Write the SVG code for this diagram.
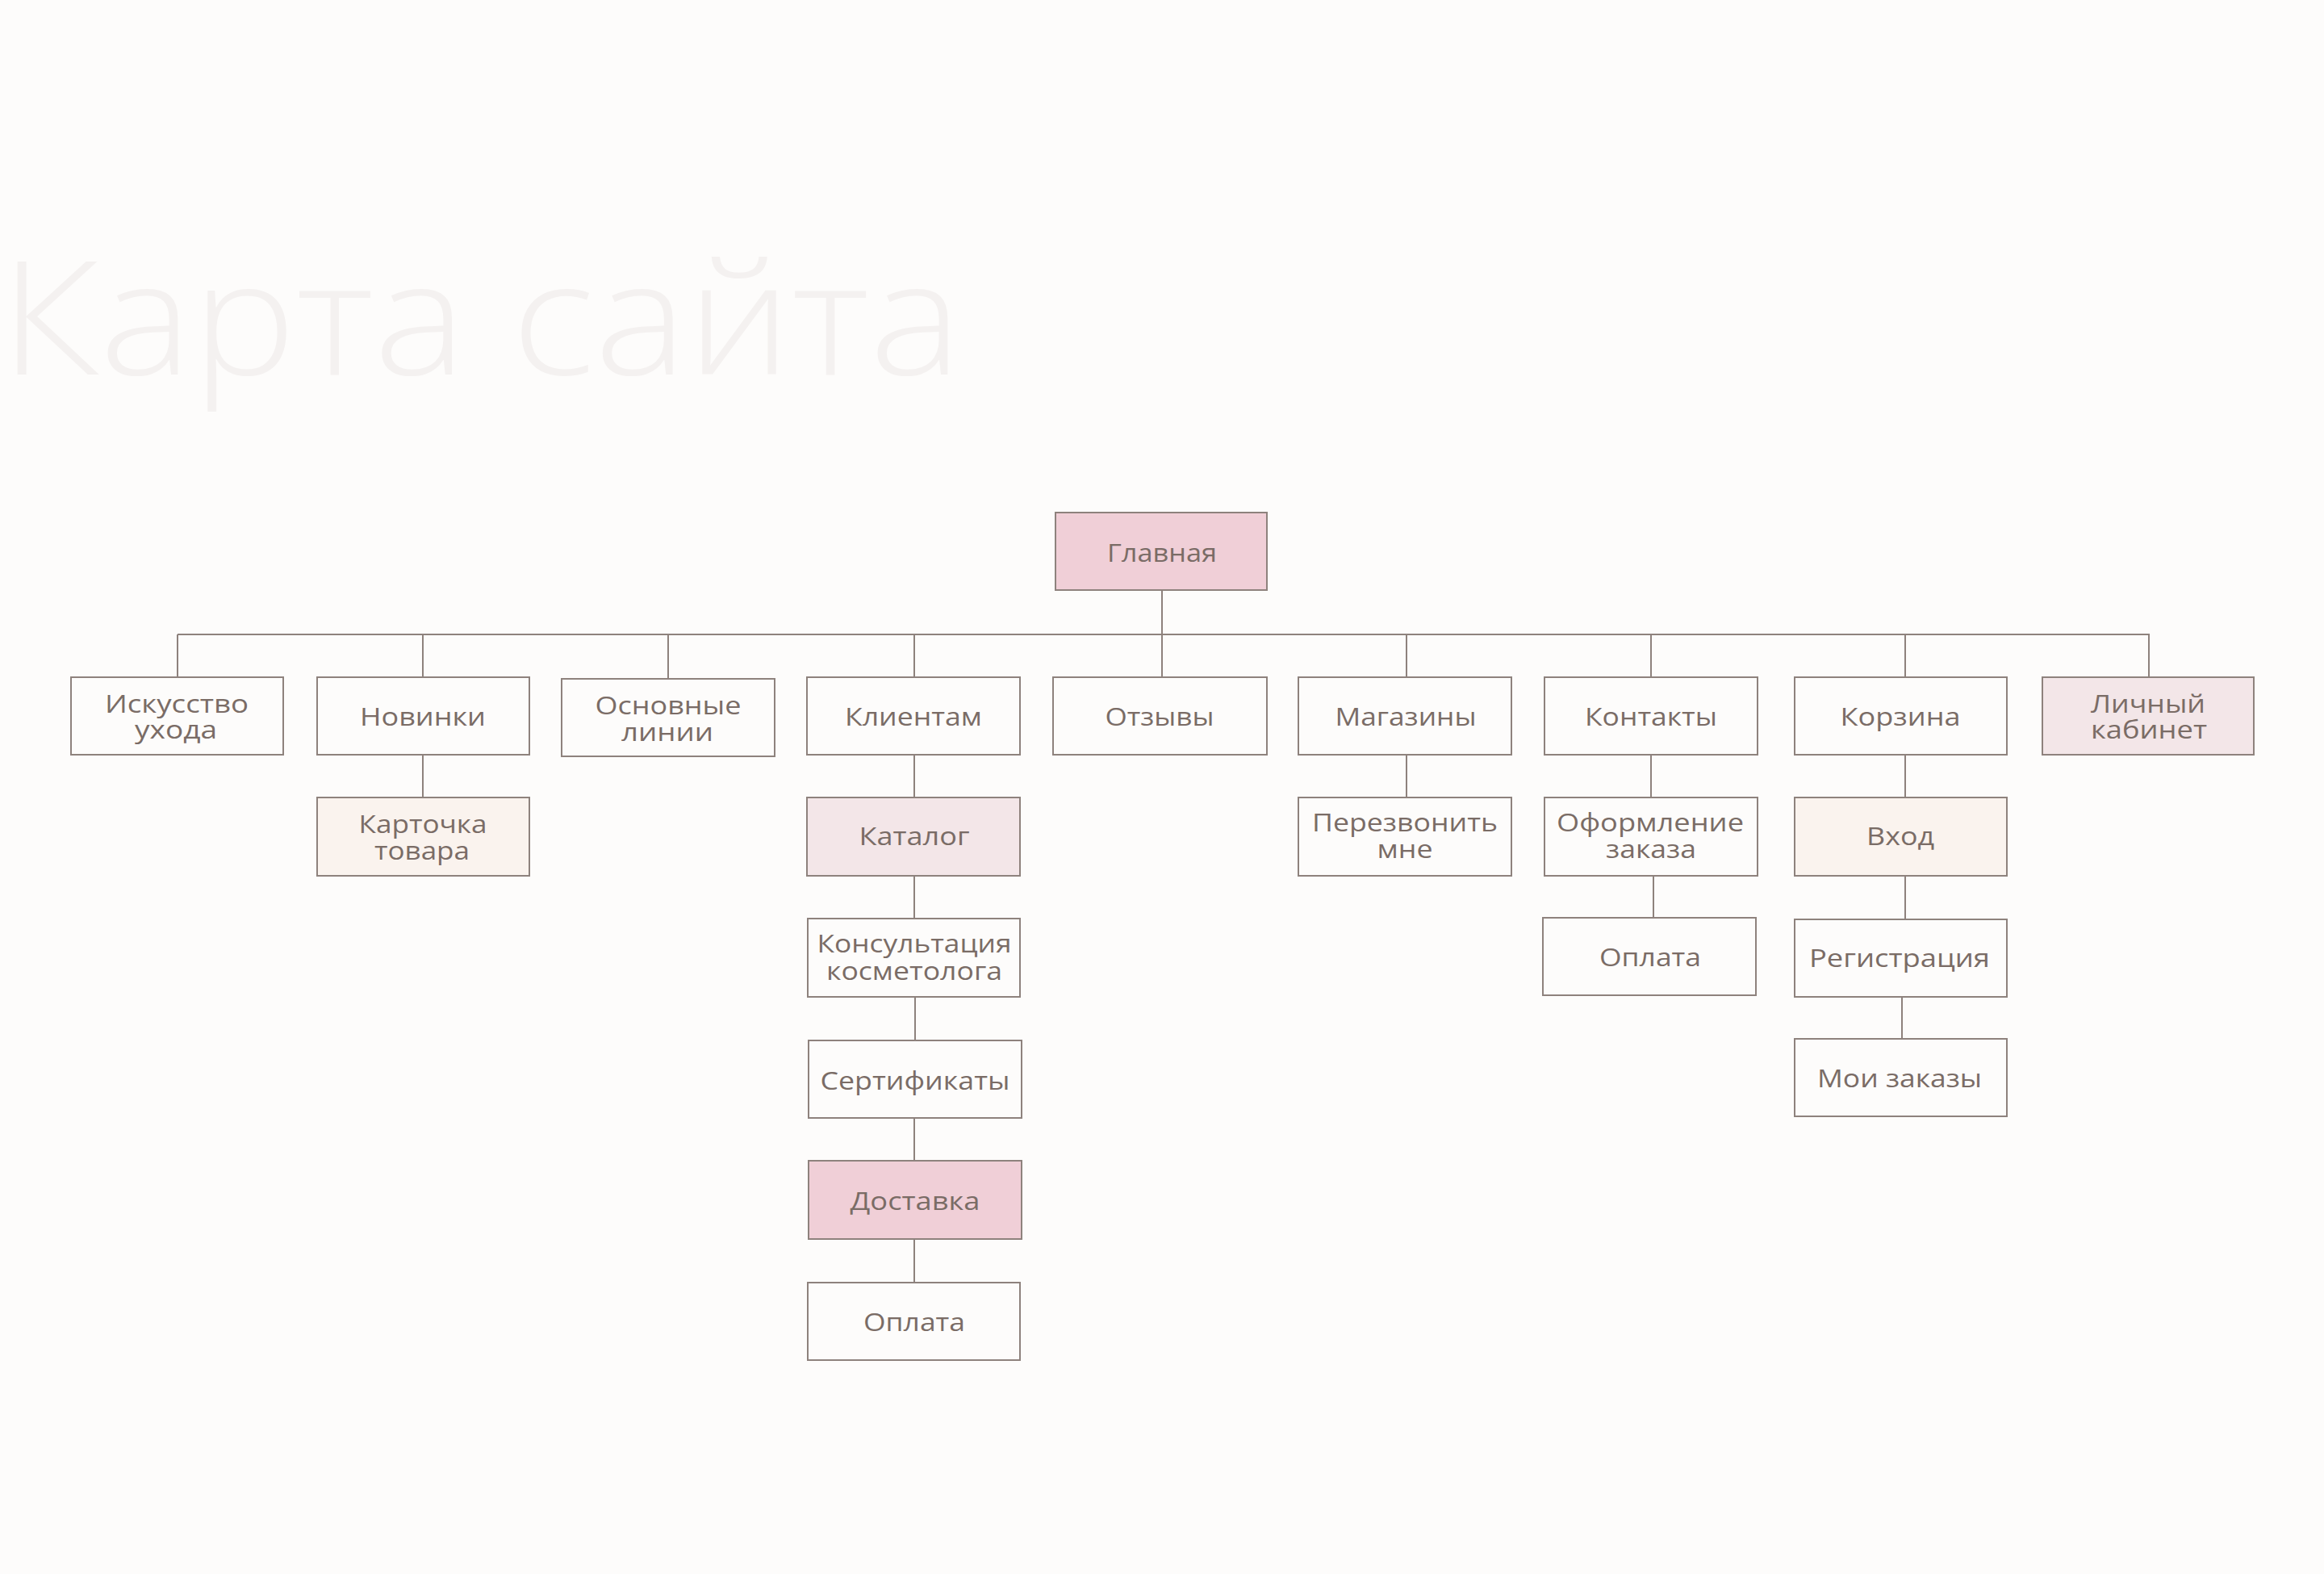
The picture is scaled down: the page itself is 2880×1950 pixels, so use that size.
<svg xmlns="http://www.w3.org/2000/svg" width="2880" height="1950" viewBox="0 0 2880 1950">
<style>
.bg{fill:#fdfcfb}
.title{font-family:"Open Sans","Noto Sans","Liberation Sans",sans-serif;font-weight:300;font-size:196px;fill:#f4f1f0}
.box{stroke:#8e827d;stroke-width:2;fill:#fdfcfb}
.pink{fill:#f0cfd7}
.lpink{fill:#f3e6e8}
.cream{fill:#faf3ee}
.lbl{font-family:"Open Sans","Noto Sans","Liberation Sans",sans-serif;font-size:31px;fill:#7a6c66;text-anchor:middle}
.con{stroke:#8e827d;stroke-width:2;fill:none}
</style>
<rect class="bg" x="0" y="0" width="2880" height="1950"/>
<text class="title" x="0" y="464" textLength="1192" lengthAdjust="spacingAndGlyphs">Карта сайта</text>

<g id="connectors">
<path class="con" d="M220,786 H2664"/>
<path class="con" d="M1440,731 V839"/>
<path class="con" d="M220,786 V839 M524,786 V839 M828,786 V841 M1133,786 V839 M1743,786 V839 M2046,786 V839 M2361,786 V839 M2663,786 V839"/>
<path class="con" d="M524,935 V988 M1133,935 V988 M1743,935 V988 M2046,935 V988 M2361,935 V988"/>
<path class="con" d="M1133,1085 V1138 M2049,1085 V1137 M2361,1085 V1139"/>
<path class="con" d="M1134,1235 V1289 M2357,1235 V1287"/>
<path class="con" d="M1133,1385 V1438"/>
<path class="con" d="M1133,1535 V1589"/>
</g>

<g id="n-glavnaya"><rect class="box pink" x="1308" y="635" width="262" height="96"/><text class="lbl" x="1440" y="696" textLength="136" lengthAdjust="spacingAndGlyphs">Главная</text></g>

<g id="n-iskusstvo"><rect class="box" x="88" y="839" width="263" height="96"/><text class="lbl"><tspan x="219" y="883" textLength="178" lengthAdjust="spacingAndGlyphs">Искусство</tspan><tspan x="218" y="915" textLength="102" lengthAdjust="spacingAndGlyphs">ухода</tspan></text></g>
<g id="n-novinki"><rect class="box" x="393" y="839" width="263" height="96"/><text class="lbl" x="524" y="899" textLength="156" lengthAdjust="spacingAndGlyphs">Новинки</text></g>
<g id="n-osnovnye"><rect class="box" x="696" y="841" width="264" height="96"/><text class="lbl"><tspan x="828" y="885" textLength="181" lengthAdjust="spacingAndGlyphs">Основные</tspan><tspan x="827" y="918" textLength="114" lengthAdjust="spacingAndGlyphs">линии</tspan></text></g>
<g id="n-klientam"><rect class="box" x="1000" y="839" width="264" height="96"/><text class="lbl" x="1132" y="899" textLength="170" lengthAdjust="spacingAndGlyphs">Клиентам</text></g>
<g id="n-otzyvy"><rect class="box" x="1305" y="839" width="265" height="96"/><text class="lbl" x="1437" y="899" textLength="135" lengthAdjust="spacingAndGlyphs">Отзывы</text></g>
<g id="n-magaziny"><rect class="box" x="1609" y="839" width="264" height="96"/><text class="lbl" x="1742" y="899" textLength="175" lengthAdjust="spacingAndGlyphs">Магазины</text></g>
<g id="n-kontakty"><rect class="box" x="1914" y="839" width="264" height="96"/><text class="lbl" x="2046" y="899" textLength="164" lengthAdjust="spacingAndGlyphs">Контакты</text></g>
<g id="n-korzina"><rect class="box" x="2224" y="839" width="263" height="96"/><text class="lbl" x="2355" y="899" textLength="149" lengthAdjust="spacingAndGlyphs">Корзина</text></g>
<g id="n-lichny"><rect class="box lpink" x="2531" y="839" width="262" height="96"/><text class="lbl"><tspan x="2662" y="883" textLength="142" lengthAdjust="spacingAndGlyphs">Личный</tspan><tspan x="2663" y="915" textLength="144" lengthAdjust="spacingAndGlyphs">кабинет</tspan></text></g>

<g id="n-kartochka"><rect class="box cream" x="393" y="988" width="263" height="97"/><text class="lbl"><tspan x="524" y="1032" textLength="159" lengthAdjust="spacingAndGlyphs">Карточка</tspan><tspan x="523" y="1065" textLength="118" lengthAdjust="spacingAndGlyphs">товара</tspan></text></g>
<g id="n-katalog"><rect class="box lpink" x="1000" y="988" width="264" height="97"/><text class="lbl" x="1133" y="1047" textLength="137" lengthAdjust="spacingAndGlyphs">Каталог</text></g>
<g id="n-perezvonit"><rect class="box" x="1609" y="988" width="264" height="97"/><text class="lbl"><tspan x="1741" y="1030" textLength="230" lengthAdjust="spacingAndGlyphs">Перезвонить</tspan><tspan x="1741" y="1063" textLength="69" lengthAdjust="spacingAndGlyphs">мне</tspan></text></g>
<g id="n-oformlenie"><rect class="box" x="1914" y="988" width="264" height="97"/><text class="lbl"><tspan x="2045" y="1030" textLength="232" lengthAdjust="spacingAndGlyphs">Оформление</tspan><tspan x="2046" y="1063" textLength="112" lengthAdjust="spacingAndGlyphs">заказа</tspan></text></g>
<g id="n-vhod"><rect class="box cream" x="2224" y="988" width="263" height="97"/><text class="lbl" x="2355" y="1047" textLength="84" lengthAdjust="spacingAndGlyphs">Вход</text></g>

<g id="n-konsultaciya"><rect class="box" x="1001" y="1138" width="263" height="97"/><text class="lbl"><tspan x="1133" y="1180" textLength="241" lengthAdjust="spacingAndGlyphs">Консультация</tspan><tspan x="1133" y="1214" textLength="218" lengthAdjust="spacingAndGlyphs">косметолога</tspan></text></g>
<g id="n-oplata-k"><rect class="box" x="1912" y="1137" width="264" height="96"/><text class="lbl" x="2045" y="1197" textLength="126" lengthAdjust="spacingAndGlyphs">Оплата</text></g>
<g id="n-registraciya"><rect class="box" x="2224" y="1139" width="263" height="96"/><text class="lbl" x="2354" y="1198" textLength="224" lengthAdjust="spacingAndGlyphs">Регистрация</text></g>

<g id="n-sertifikaty"><rect class="box" x="1002" y="1289" width="264" height="96"/><text class="lbl" x="1134" y="1350" textLength="235" lengthAdjust="spacingAndGlyphs">Сертификаты</text></g>
<g id="n-moi-zakazy"><rect class="box" x="2224" y="1287" width="263" height="96"/><text class="lbl" x="2354" y="1347" textLength="204" lengthAdjust="spacingAndGlyphs">Мои заказы</text></g>

<g id="n-dostavka"><rect class="box pink" x="1002" y="1438" width="264" height="97"/><text class="lbl" x="1134" y="1499" textLength="161" lengthAdjust="spacingAndGlyphs">Доставка</text></g>
<g id="n-oplata"><rect class="box" x="1001" y="1589" width="263" height="96"/><text class="lbl" x="1133" y="1649" textLength="126" lengthAdjust="spacingAndGlyphs">Оплата</text></g>
</svg>
